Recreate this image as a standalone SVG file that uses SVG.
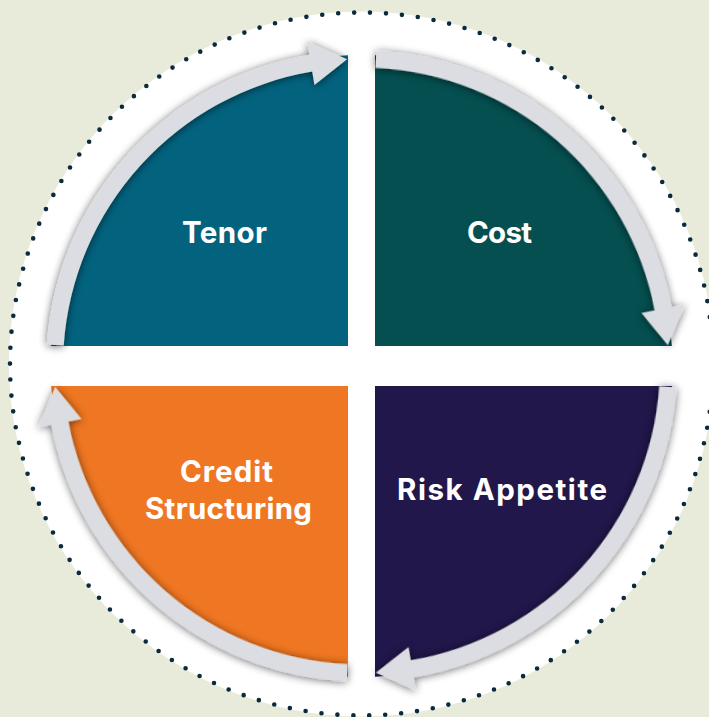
<svg xmlns="http://www.w3.org/2000/svg" xmlns:xlink="http://www.w3.org/1999/xlink" width="709" height="717" viewBox="0 0 709 717">
  <style>
    .label { font-family: Inter, "Open Sans", "Liberation Sans", sans-serif; font-weight: 700; font-size: 29.5px; fill: #ffffff; text-anchor: middle; }
    .arrow { fill: #dcdde2; }
  </style>
  <defs>
    <!-- soft shadow cast by the curved arrows -->
    <filter id="shadow" x="-15%" y="-15%" width="130%" height="130%">
      <feGaussianBlur in="SourceAlpha" stdDeviation="4.5"/>
      <feOffset dx="0" dy="1" result="blur"/>
      <feComponentTransfer>
        <feFuncA type="linear" slope="0.6"/>
      </feComponentTransfer>
      <feMerge>
        <feMergeNode/>
        <feMergeNode in="SourceGraphic"/>
      </feMerge>
    </filter>
    <!-- curved arrow in local polar frame: starts at 0deg, tip at 83.38deg, centreline r=307 -->
    <path id="curvedArrow" class="arrow"
          d="M315.5 0 A315.5 315.5 0 0 1 73.23 306.88 L76.36 320.02 L35.39 304.95 L66.15 277.22 L69.28 290.35 A298.5 298.5 0 0 0 298.5 0 Z"/>
  </defs>

  <!-- backdrop -->
  <rect x="0" y="0" width="709" height="717" fill="#e8ebda"/>
  <circle cx="361.5" cy="364" r="352.5" fill="#ffffff"/>
  <circle cx="361.5" cy="364" r="351.5" fill="none" stroke="#0b2a3e" stroke-width="4.6" stroke-linecap="round" stroke-dasharray="0 16.003"/>

  <!-- quadrants -->
  <g id="tenor">
    <path d="M348 346 L51.14 346 A311 311 0 0 1 348 55.29 Z" fill="#03637f"/>
    <text class="label" x="224.5" y="243" textLength="85">Tenor</text>
  </g>
  <g id="cost">
    <path d="M375 346 L375 55.29 A311 311 0 0 1 671.86 346 Z" fill="#054f50"/>
    <text class="label" x="499.5" y="243" textLength="65">Cost</text>
  </g>
  <g id="risk-appetite">
    <path d="M375 386 L671.86 386 A311 311 0 0 1 375 676.71 Z" fill="#21174a"/>
    <text class="label" x="502" y="500" textLength="210">Risk Appetite</text>
  </g>
  <g id="credit-structuring">
    <path d="M348 386 L348 676.71 A311 311 0 0 1 51.14 386 Z" fill="#ef7622"/>
    <text class="label" x="226.5" y="482" textLength="93">Credit</text>
    <text class="label" x="228.5" y="519" textLength="167">Structuring</text>
  </g>

  <!-- connectors: clockwise cycle arrows -->
  <g id="connectors" filter="url(#shadow)">
    <use xlink:href="#curvedArrow" transform="translate(361.5 366) rotate(183.92)"/>
    <use xlink:href="#curvedArrow" transform="translate(361.5 366) rotate(272.7)"/>
    <use xlink:href="#curvedArrow" transform="translate(361.5 366) rotate(3.92)"/>
    <use xlink:href="#curvedArrow" transform="translate(361.5 366) rotate(92.7)"/>
  </g>
</svg>
